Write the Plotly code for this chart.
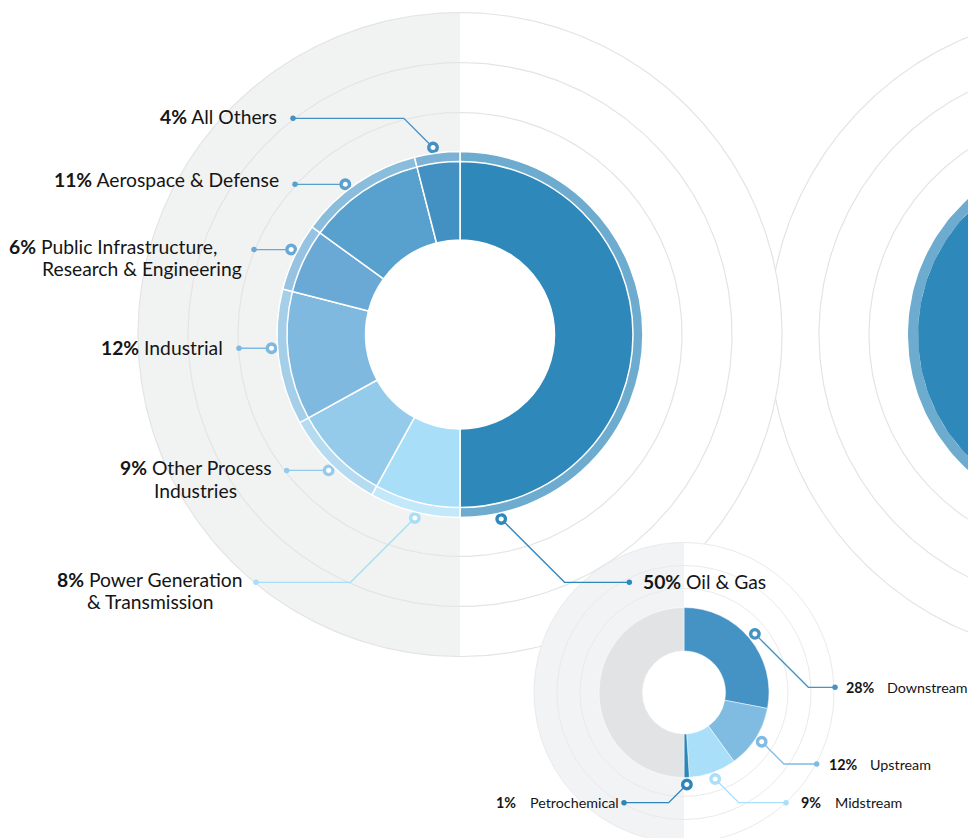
import numpy as np
import plotly.graph_objects as go

# ---------------- data ----------------
main_label_lines = [
    ["Oil & Gas"],
    ["Power Generation", "& Transmission"],
    ["Other Process", "Industries"],
    ["Industrial"],
    ["Public Infrastructure,", "Research & Engineering"],
    ["Aerospace & Defense"],
    ["All Others"],
]
main_categories = [" ".join(l) for l in main_label_lines]
main_values = [50, 8, 9, 12, 6, 11, 4]

sub_categories = ["Downstream", "Upstream", "Midstream", "Petrochemical"]
sub_values = [28, 12, 9, 1]
sub_rest_label = "Other industries"
sub_rest_value = 100 - sum(sub_values)

side_categories = ["Next chart (cropped)"]
side_values = [100]

# ---------------- style / layout ----------------
W, H = 968, 838
FONT = "Lato, Roboto, sans-serif"
TXT = "#151515"

main_colors = ["#2e88b9", "#a8def8", "#94cbea", "#7fb9df", "#6aa9d5", "#58a0cd", "#4391c3"]
sub_colors = ["#4493c4", "#80bbe1", "#a9dff9", "#2e86b8"]
sub_rest_color = "#e2e3e5"
side_colors = ["#2e88b9"]

MAIN_C, MAIN_RIN, MAIN_R, MAIN_RING = (460, 334.5), 94.5, 173, 183
MAIN_CIRCLES = [222, 272, 322]
SUB_C, SUB_RIN, SUB_R = (684, 692.5), 41.5, 85
SUB_CIRCLES = [104, 127, 150]
SIDE_C = (1091, 334.5)

GRAY_MAIN = "#f1f2f2"
GRAY_SUB = "#f2f3f5"
LINE_GRAY = "#e4e4e4"


def lighten(hexcol, f=0.3):
    h = hexcol.lstrip("#")
    rgb = [int(h[i:i + 2], 16) for i in (0, 2, 4)]
    rgb = [round(c + (255 - c) * f) for c in rgb]
    return "#%02x%02x%02x" % tuple(rgb)


def pt(c, r, a):
    a = np.radians(a)
    return c[0] + r * np.sin(a), c[1] - r * np.cos(a)


def arc(c, r, a0, a1, n=240):
    a = np.linspace(a0, a1, n)
    x, y = pt(c, r, a)
    return list(x), list(y)


def slice_angles(values):
    v = np.array(values, dtype=float)
    tot = v.sum()
    end = np.cumsum(v) / tot * 360
    start = end - v / tot * 360
    return start, end


def domain(c, r):
    return dict(x=[(c[0] - r) / W, (c[0] + r) / W],
                y=[(H - c[1] - r) / H, (H - c[1] + r) / H])


fig = go.Figure()


def poly(xs, ys, color):
    fig.add_trace(go.Scatter(x=xs, y=ys, mode="lines", fill="toself", fillcolor=color,
                             line=dict(width=0), hoverinfo="skip", showlegend=False))


def ring_line(c, r, color=LINE_GRAY, w=1.2):
    xs, ys = arc(c, r, 0, 360, 400)
    fig.add_trace(go.Scatter(x=xs, y=ys, mode="lines", line=dict(color=color, width=w),
                             hoverinfo="skip", showlegend=False))


# ---- cropped chart on the right ----
for r in MAIN_CIRCLES:
    ring_line(SIDE_C, r)
s0, s1 = slice_angles(side_values)
for a0, a1, col in zip(s0, s1, side_colors):
    xo, yo = arc(SIDE_C, MAIN_RING, a0, a1)
    xi, yi = arc(SIDE_C, MAIN_R, a1, a0)
    poly(xo + xi, yo + yi, lighten(col, 0.3))
    xo, yo = arc(SIDE_C, MAIN_R, a0, a1)
    xi, yi = arc(SIDE_C, MAIN_RIN, a1, a0)
    poly(xo + xi, yo + yi, col)

# ---- main chart backdrop ----
xs, ys = arc(MAIN_C, MAIN_CIRCLES[-1], 0, 180)
poly(xs, ys, "#ffffff")
xs, ys = arc(MAIN_C, MAIN_CIRCLES[-1], 180, 360)
poly(xs, ys, GRAY_MAIN)
for r in MAIN_CIRCLES:
    ring_line(MAIN_C, r)
xs, ys = arc(MAIN_C, MAIN_RIN + 2, 0, 360)
poly(xs, ys, "#ffffff")

# ---- sub chart backdrop ----
xs, ys = arc(SUB_C, SUB_CIRCLES[-1], 0, 180)
poly(xs, ys, "#ffffff")
xs, ys = arc(SUB_C, SUB_CIRCLES[-1], 180, 360)
poly(xs, ys, GRAY_SUB)
for r in SUB_CIRCLES:
    ring_line(SUB_C, r, "#eaeaec", 1.0)
xs, ys = arc(SUB_C, SUB_RIN + 2, 0, 360)
poly(xs, ys, "#ffffff")

# ---- pies ----
fig.add_trace(go.Pie(values=main_values, labels=main_categories, sort=False, direction="clockwise",
                     rotation=0, hole=(MAIN_R - 1) / MAIN_RING, textinfo="none", hoverinfo="skip",
                     marker=dict(colors=[lighten(c, 0.3) for c in main_colors],
                                 line=dict(color="#ffffff", width=1.5)),
                     domain=domain(MAIN_C, MAIN_RING), showlegend=False))
fig.add_trace(go.Pie(values=main_values, labels=main_categories, sort=False, direction="clockwise",
                     rotation=0, hole=MAIN_RIN / MAIN_R, textinfo="none", hoverinfo="label+percent",
                     marker=dict(colors=main_colors, line=dict(color="#ffffff", width=1.5)),
                     domain=domain(MAIN_C, MAIN_R), showlegend=False))
fig.add_trace(go.Pie(values=sub_values + [sub_rest_value], labels=sub_categories + [sub_rest_label],
                     sort=False, direction="clockwise", rotation=0, hole=SUB_RIN / SUB_R,
                     textinfo="none", hoverinfo="label+percent",
                     marker=dict(colors=sub_colors + [sub_rest_color],
                                 line=dict(color="rgba(255,255,255,0.6)", width=0.8)),
                     domain=domain(SUB_C, SUB_R), showlegend=False))

# ---- leaders ----
def leaders(c, r, values, fracs, specs, colors):
    start, end = slice_angles(values)
    for i, (lab_y, dot_x) in enumerate(specs):
        a = start[i] + fracs[i] * (end[i] - start[i])
        mx, my = pt(c, r, a)
        mx, my = float(mx), float(my)
        if lab_y is None:
            xs, ys = [mx, dot_x], [my, my]
            ly = my
        else:
            d = abs(lab_y - my)
            ex = mx - d if dot_x < mx else mx + d
            xs, ys = [mx, ex, dot_x], [my, lab_y, lab_y]
            ly = lab_y
        col = colors[i]
        fig.add_trace(go.Scatter(x=xs, y=ys, mode="lines", line=dict(color=col, width=1.3),
                                 hoverinfo="skip", showlegend=False))
        fig.add_trace(go.Scatter(x=[dot_x], y=[ly], mode="markers",
                                 marker=dict(size=5.5, color=col), hoverinfo="skip", showlegend=False))
        fig.add_trace(go.Scatter(x=[mx], y=[my], mode="markers",
                                 marker=dict(size=8.5, color="#ffffff", line=dict(color=col, width=3.4)),
                                 hoverinfo="skip", showlegend=False))


main_fracs = [0.93, 0.48, 0.47, 0.57, 0.57, 0.42, 0.43]
main_specs = [(582.3, 629.3), (582.3, 256), (None, 286.7), (None, 239), (None, 254), (None, 295), (118.3, 293)]
leaders(MAIN_C, 189, main_values, main_fracs, main_specs, main_colors)

sub_specs = [(687.3, 835), (764, 816.7), (802.7, 786), (802.7, 624)]
leaders(SUB_C, 92, sub_values + [sub_rest_value], [0.5] * 4, sub_specs, sub_colors)

# ---- labels ----
ann = []


def text(t, x, y, anchor, size):
    ann.append(dict(text=t, x=x, y=y, xref="x", yref="y", xanchor=anchor, yanchor="middle",
                    showarrow=False, font=dict(family=FONT, size=size, color=TXT)))


MS = 19.3
main_text_pos = [
    [(641, 581, "left")],
    [(149.5, 579.5, "center"), (150, 601.8, "center")],
    [(196, 467.5, "center"), (195.5, 490, "center")],
    [(224.5, 347.5, "right")],
    [(7, 246, "left"), (40, 268.5, "left")],
    [(281, 179.8, "right")],
    [(279, 116, "right")],
]
for v, lines, pos in zip(main_values, main_label_lines, main_text_pos):
    for j, (line, (x, y, anc)) in enumerate(zip(lines, pos)):
        t = f"<b>{v}%</b> {line}" if j == 0 else line
        text(t, x, y, anc, MS)

SS = 14.3
sub_text_pos = [(844.3, 885, 687.5), (826.7, 868.3, 764), (799.3, 833.3, 802.7), (494, 528.3, 802.7)]
for v, name, (px, nx, y) in zip(sub_values, sub_categories, sub_text_pos):
    text(f"<b>{v}%</b>", px, y, "left", SS)
    text(name, nx, y, "left", SS)

fig.update_layout(
    width=W, height=H, margin=dict(l=0, r=0, t=0, b=0),
    paper_bgcolor="#ffffff", plot_bgcolor="#ffffff",
    xaxis=dict(range=[0, W], visible=False, fixedrange=True),
    yaxis=dict(range=[H, 0], visible=False, fixedrange=True),
    annotations=ann, showlegend=False,
)
fig.write_html("out.html", config={"displayModeBar": False},
               post_script="document.body.style.margin='0px';")
